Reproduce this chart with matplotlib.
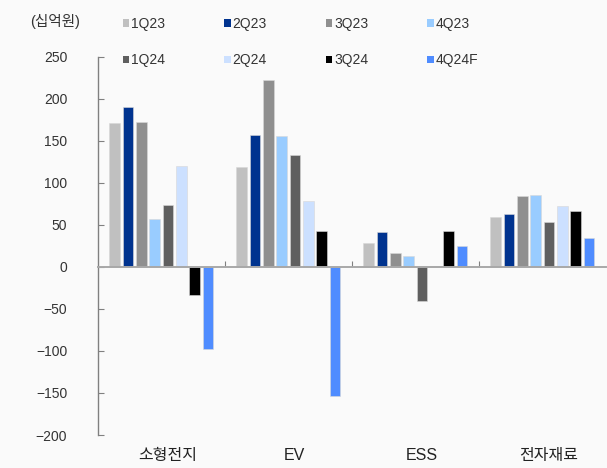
import numpy as np
import matplotlib.pyplot as plt
from matplotlib.patches import Patch
from matplotlib.transforms import blended_transform_factory

plt.rcParams['font.family'] = ['Liberation Sans', 'Noto Sans CJK KR', 'DejaVu Sans']

categories = ['소형전지', 'EV', 'ESS', '전자재료']
quarters = ['1Q23', '2Q23', '3Q23', '4Q23', '1Q24', '2Q24', '3Q24', '4Q24F']
colors = ['#c0c0c0', '#00338f', '#8f8f8f', '#99ccff',
          '#5f5f5f', '#cce0ff', '#000000', '#4f8cff']

# operating profit per segment, one list per quarter (KRW bn)
q1_23 = [171, 119, 28, 59]
q2_23 = [190, 157, 41, 63]
q3_23 = [173, 222, 17, 84]
q4_23 = [57, 156, 13, 86]
q1_24 = [74, 133, -40, 53]
q2_24 = [120, 79, 1, 72]
q3_24 = [-33, 43, 43, 67]
q4_24f = [-98, -153, 25, 35]
series = [q1_23, q2_23, q3_23, q4_23, q1_24, q2_24, q3_24, q4_24f]

fig = plt.figure(figsize=(6.07, 4.68), dpi=100, facecolor='#fafafa')
ax = fig.add_axes([0.161, 0.0705, 0.837, 0.808], facecolor='#fafafa')

x = np.arange(len(categories))
step = 0.105
width = 0.084
for i, vals in enumerate(series):
    ax.bar(x + (i - 3.5) * step, vals, width, color=colors[i],
           edgecolor='#d8d8d8', linewidth=0.4, zorder=2)

ax.set_xlim(-0.5, len(categories) - 0.5)
ax.set_ylim(-200, 250)
ax.set_yticks(np.arange(-200, 251, 50))
ax.tick_params(axis='y', direction='in', length=4, width=0.8, pad=22,
               labelsize=10, labelcolor='#333333', color='#808080')

for s in ['top', 'right']:
    ax.spines[s].set_visible(False)
ax.spines['left'].set_color('#808080')
ax.spines['left'].set_linewidth(1.0)
ax.spines['bottom'].set_position(('data', 0))
ax.spines['bottom'].set_color('#a8a8a8')
ax.spines['bottom'].set_linewidth(1.4)
ax.set_xticks(x[:-1] + 0.5)
ax.set_xticklabels([])
ax.tick_params(axis='x', direction='in', length=4, width=0.8, color='#808080')

trans = blended_transform_factory(ax.transData, ax.transAxes)
for xi, name in zip(x, categories):
    ax.text(xi + 0.05, -0.035, name, transform=trans, ha='center', va='top',
            fontsize=11.5, color='#222222')

fig.text(0.05, 0.953, '(십억원)', ha='left', va='center', fontsize=10.5, color='#333333')

handles = [Patch(facecolor=c, edgecolor='none') for c in colors]
order = [0, 4, 1, 5, 2, 6, 3, 7]
fig.legend([handles[i] for i in order], [quarters[i] for i in order],
           ncol=4, loc='upper left', bbox_to_anchor=(0.182, 0.99),
           frameon=False, fontsize=10, handlelength=0.45, handleheight=0.45,
           handletextpad=0.15, labelspacing=1.6, columnspacing=4.25,
           labelcolor='#333333')

fig.savefig('out.png', dpi=100, facecolor=fig.get_facecolor())
